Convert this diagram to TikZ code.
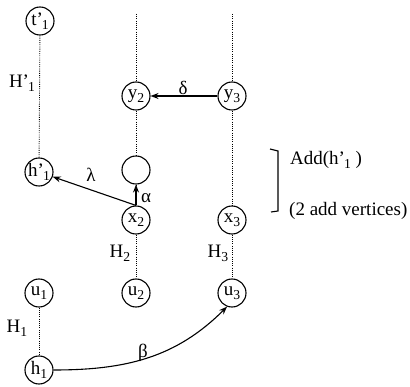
\documentclass[tikz,border=0pt]{standalone}
\usepackage{fontspec}
\usepackage{graphicx}
\setmainfont{Liberation Serif}
\usetikzlibrary{arrows.meta}
\newcommand{\sbs}[1]{\raisebox{-0.45ex}{\scalebox{0.72}{#1}}}
\begin{document}
\begin{tikzpicture}[x=1pt,y=1pt,
  vtx/.style={circle,draw,line width=1.1pt,minimum size=28pt,inner sep=0pt,font=\fontsize{19}{19}\selectfont},
  dots/.style={line width=0.9pt,dash pattern=on 0.9pt off 1.3pt},
  arr/.style={-{Stealth[length=8pt,width=6pt]},line width=1.1pt},
  lbl/.style={font=\fontsize{19}{19}\selectfont,inner sep=0pt},
  txt/.style={font=\fontsize{19}{19}\selectfont,inner sep=0pt,anchor=west}]
\useasboundingbox (0,0) rectangle (410,-387);
% column 1
\node[vtx] (t1) at (40,-21) {t’\kern-0.05em\sbs{1}};
\node[vtx] (hp1) at (39,-172) {h’\kern-0.05em\sbs{1}};
\node[vtx] (u1) at (39,-293) {u\sbs{1}};
\node[vtx] (h1) at (39,-370) {h\sbs{1}};
% column 2
\coordinate (c2) at (136,-14);
\node[vtx] (y2) at (136,-96) {y\sbs{2}};
\node[vtx] (e) at (136,-170) {};
\node[vtx] (x2) at (136,-220) {x\sbs{2}};
\node[vtx] (u2) at (136,-293) {u\sbs{2}};
% column 3
\coordinate (c3) at (232,-14);
\node[vtx] (y3) at (232,-96) {y\sbs{3}};
\node[vtx] (x3) at (232,-220) {x\sbs{3}};
\node[vtx] (u3) at (232,-293) {u\sbs{3}};
% dotted lines
\draw[dots] (t1) -- (hp1);
\draw[dots] (u1) -- (h1);
\draw[dots] (c2) -- (y2) -- (e) -- (x2) -- (u2);
\draw[dots] (c3) -- (y3) -- (x3) -- (u3);
% arrows
\draw[arr] (y3) -- (y2);
\draw[arr] (x2.north) -- (e);
\draw[arr] (x2.north) -- (hp1);
\draw[arr] (h1.east) to[out=0,in=225] (u3.250);
% labels
\node[lbl] (lh1p) at (22,-83) {H’\kern-0.05em\sbs{1}};
\node[lbl] (lh2) at (120,-253) {H\sbs{2}};
\node[lbl] (lh3) at (218,-253) {H\sbs{3}};
\node[lbl] (lh1) at (17,-328) {H\sbs{1}};
\node[lbl] (ld) at (183,-88) {δ};
\node[lbl] (ll) at (91,-175) {λ};
\node[lbl] (la) at (146,-198) {α};
\node[lbl] (lb) at (143,-353) {β};
% bracket
\draw[line width=1.1pt] (270,-149) -- (278,-151) -- (278,-211) -- (271,-212);
\node[txt] (add) at (290,-160) {Add(h’\kern-0.05em\sbs{1} )};
\node[txt] (addv) at (289,-211) {(2 add vertices)};
\end{tikzpicture}
\end{document}
